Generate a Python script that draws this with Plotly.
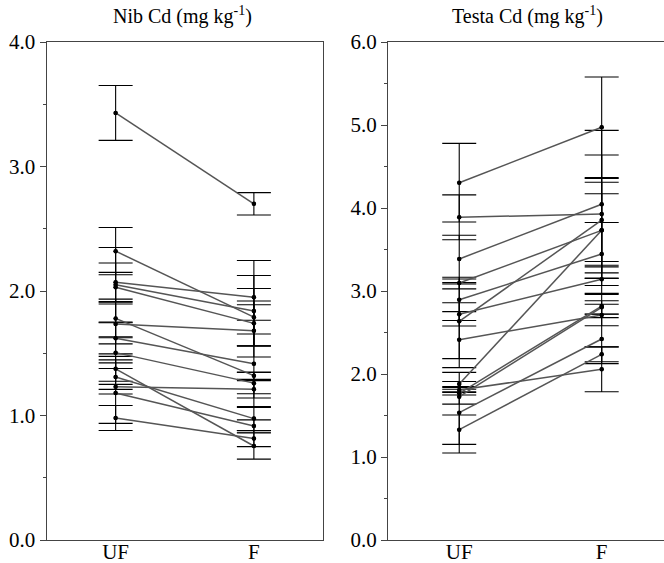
import plotly.graph_objects as go

categories = ["UF", "F"]

# Nib Cd (mg kg-1): paired samples, UF -> F
nib_uf = [3.43, 2.32, 2.07, 2.05, 2.03, 1.78, 1.735, 1.62, 1.505, 1.375, 1.31, 1.23, 1.18, 0.98]
nib_uf_err = [0.22, 0.19, 0.155, 0.30, 0.12, 0.155, 0.16, 0.125, 0.128, 0.10, 0.137, 0.02, 0.243, 0.10]
nib_f = [2.70, 1.79, 1.95, 1.84, 1.74, 1.32, 1.68, 1.415, 1.26, 0.755, 0.975, 1.21, 0.915, 0.815]
nib_f_err = [0.09, 0.23, 0.295, 0.284, 0.18, 0.03, 0.21, 0.35, 0.085, 0.105, 0.096, 0.07, 0.05, 0.065]

# Testa Cd (mg kg-1): paired samples, UF -> F
testa_uf = [4.305, 3.888, 3.386, 3.096, 2.895, 2.719, 2.635, 2.414, 1.880, 1.807, 1.767, 1.727, 1.534, 1.329]
testa_uf_err = [0.474, 0.27, 0.285, 0.07, 0.25, 0.14, 0.45, 0.337, 0.03, 0.03, 0.02, 0.09, 0.486, 0.177]
testa_f = [4.972, 3.928, 4.045, 3.731, 3.446, 3.141, 3.855, 2.711, 3.731, 2.057, 2.819, 2.803, 2.422, 2.237]
testa_f_err = [0.606, 0.71, 0.89, 0.58, 0.38, 0.17, 0.50, 0.13, 0.44, 0.27, 0.14, 0.08, 0.297, 0.09]

nib_ticks = [0, 1, 2, 3, 4]
testa_ticks = [0, 1, 2, 3, 4, 5, 6]

FONT = "Liberation Serif"
W, H = 664, 563
LINE_C = "#555555"

fig = go.Figure()

def add_panel(uf, uf_err, f, f_err, xa, ya):
    for cat, vals, errs in ((categories[0], uf, uf_err), (categories[1], f, f_err)):
        fig.add_trace(go.Scatter(
            x=[cat] * len(vals), y=vals, mode="markers",
            marker=dict(color="black", size=4),
            error_y=dict(type="data", array=errs, visible=True,
                         color="black", thickness=1.1, width=17),
            xaxis=xa, yaxis=ya, showlegend=False, hoverinfo="skip"))
    xs, ys = [], []
    for a, b in zip(uf, f):
        xs += [categories[0], categories[1], None]
        ys += [a, b, None]
    fig.add_trace(go.Scatter(x=xs, y=ys, mode="lines",
                             line=dict(color=LINE_C, width=1.5),
                             xaxis=xa, yaxis=ya, showlegend=False, hoverinfo="skip"))
    fig.add_trace(go.Scatter(x=[categories[0]] * len(uf) + [categories[1]] * len(f),
                             y=uf + f, mode="markers",
                             marker=dict(color="black", size=4.5),
                             xaxis=xa, yaxis=ya, showlegend=False, hoverinfo="skip"))

add_panel(nib_uf, nib_uf_err, nib_f, nib_f_err, "x", "y")
add_panel(testa_uf, testa_uf_err, testa_f, testa_f_err, "x2", "y2")

ydom = [(H - 540) / H, (H - 42) / H]
axis_common = dict(showline=True, linecolor="#444", linewidth=1, showgrid=False,
                   zeroline=False, tickfont=dict(family=FONT, size=21, color="black"),
                   automargin=False)

fig.update_layout(
    width=W, height=H, margin=dict(l=0, r=0, t=0, b=0),
    paper_bgcolor="white", plot_bgcolor="white",
    xaxis=dict(domain=[46.5 / W, 323 / W], type="category", range=[-0.5, 1.5],
               ticks="", mirror=True, anchor="y", ticklabelstandoff=-7, **axis_common),
    yaxis=dict(domain=ydom, range=[0, 4], tickvals=nib_ticks,
               ticktext=[f"{v:.1f}" for v in nib_ticks], ticks="outside", ticklen=6,
               tickcolor="#444", mirror=True, anchor="x",
               minor=dict(dtick=0.5, ticks="outside", ticklen=3, tickcolor="#444"),
               **axis_common),
    xaxis2=dict(domain=[388 / W, 1.0], type="category", range=[-0.5, 1.4375],
                ticks="", mirror=True, anchor="y2", ticklabelstandoff=-7, **axis_common),
    yaxis2=dict(domain=ydom, range=[0, 6], tickvals=testa_ticks,
                ticktext=[f"{v:.1f}" for v in testa_ticks], ticks="outside", ticklen=6,
                tickcolor="#444", mirror=False, anchor="x2",
                minor=dict(dtick=0.5, ticks="outside", ticklen=3, tickcolor="#444"),
                **axis_common),
    annotations=[
        dict(text="Nib Cd (mg kg<sup>-1</sup>)", x=182 / W, y=(H - 15) / H,
             xref="paper", yref="paper", showarrow=False, xanchor="center", yanchor="middle",
             font=dict(family=FONT, size=20, color="black")),
        dict(text="Testa Cd (mg kg<sup>-1</sup>)", x=527 / W, y=(H - 15) / H,
             xref="paper", yref="paper", showarrow=False, xanchor="center", yanchor="middle",
             font=dict(family=FONT, size=20, color="black")),
    ],
)

fig.write_html("out.html")
